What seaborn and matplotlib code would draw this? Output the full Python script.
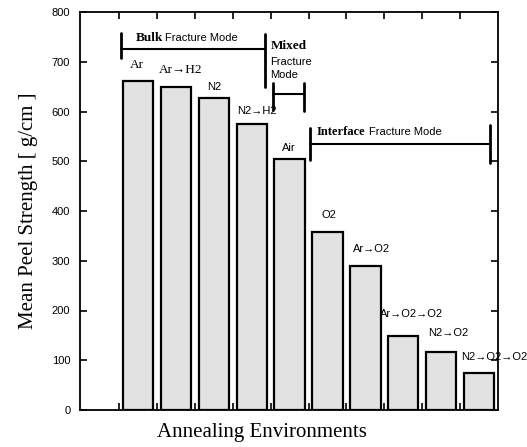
import matplotlib
matplotlib.use("Agg")
import matplotlib.pyplot as plt
import seaborn as sns
import numpy as np
import pandas as pd

categories = ["Ar", "Ar\u2192H2", "N2", "N2\u2192H2", "Air", "O2",
              "Ar\u2192O2", "Ar\u2192O2\u2192O2", "N2\u2192O2", "N2\u2192O2\u2192O2"]
peel_strength = [661, 649, 627, 575, 504, 358, 289, 149, 117, 74]
y_ticks = [0, 100, 200, 300, 400, 500, 600, 700, 800]

sns.set_theme(style="white")
plt.rcParams["font.family"] = ["Liberation Sans", "DejaVu Sans"]
plt.rcParams["text.color"] = "black"
plt.rcParams["axes.labelcolor"] = "black"
plt.rcParams["xtick.color"] = "black"
plt.rcParams["ytick.color"] = "black"

df = pd.DataFrame({"env": categories, "val": peel_strength})

fig = plt.figure(figsize=(5.27, 4.47), dpi=100)
ax = fig.add_axes([80/527, 37/447, 418/527, 398/447])

sns.barplot(data=df, x="env", y="val", color="#e2e2e2", saturation=1,
            edgecolor="black", linewidth=1.6, width=0.8, ax=ax)

ax.set_xlim(-1.53, 9.5)
ax.set_ylim(0, 800)
ax.set_yticks(y_ticks)
ax.set_yticklabels([str(t) for t in y_ticks], fontsize=8)
bounds = np.arange(len(categories)) - 0.5
ax.set_xticks(bounds)
ax.set_xticklabels([])
ax.tick_params(axis="both", direction="in", length=5, width=1.2, color="black",
               labelcolor="black", top=True, right=True, bottom=True, left=True)
ax.tick_params(axis="y", pad=7)
for s in ax.spines.values():
    s.set_color("black")
    s.set_linewidth(1.3)
    s.set_visible(True)

ax.set_xlabel("")
ax.set_ylabel("Mean Peel Strength [ g/cm ]", family="Liberation Serif", fontsize=15,
              labelpad=10, color="black")
fig.text(262/527, 1 - 433/447, "Annealing Environments", family="Liberation Serif",
         fontsize=15, ha="center", va="center", color="black")

# bar labels
label_pos = [(-0.04, 693), (1.12, 683), (2.02, 649), (3.15, 601), (3.97, 527),
             (5.05, 392), (6.16, 324), (7.22, 193), (8.19, 155), (9.41, 107)]
serif_labels = {0, 1}
for i, (lab, (xx, yy)) in enumerate(zip(categories, label_pos)):
    if i in serif_labels:
        fam = ["Liberation Serif", "DejaVu Serif"]
        fs = 9.5
    else:
        fam = ["Liberation Sans", "DejaVu Sans"]
        fs = 8
    ax.text(xx, yy, lab, ha="center", va="center", fontsize=fs, family=fam,
            color="black", clip_on=False)

lw = 1.5
# Bulk bracket
ax.plot([-0.46, 3.36], [726, 726], color="black", lw=lw)
ax.plot([-0.46, -0.46], [708, 758], color="black", lw=2)
ax.plot([3.36, 3.36], [649, 756], color="black", lw=2)
ax.text(-0.07, 748, "Bulk", family="Liberation Serif", fontweight="bold", fontsize=9.5,
        ha="left", va="center", color="black")
ax.text(0.72, 748, "Fracture Mode", fontsize=8, ha="left", va="center", color="black")

# Mixed bracket
ax.plot([3.55, 4.37], [635, 635], color="black", lw=lw)
ax.plot([3.55, 3.55], [603, 657], color="black", lw=2)
ax.plot([4.37, 4.37], [601, 657], color="black", lw=2)
ax.text(3.50, 732, "Mixed", family="Liberation Serif", fontweight="bold", fontsize=9.5,
        ha="left", va="center", color="black")
ax.text(3.50, 700, "Fracture", fontsize=8, ha="left", va="center", color="black")
ax.text(3.50, 673, "Mode", fontsize=8, ha="left", va="center", color="black")

# Interface bracket
ax.plot([4.55, 9.30], [535, 535], color="black", lw=lw)
ax.plot([4.55, 4.55], [503, 567], color="black", lw=2)
ax.plot([9.30, 9.30], [496, 573], color="black", lw=2)
ax.text(4.71, 559, "Interface", family="Liberation Serif", fontweight="bold", fontsize=9,
        ha="left", va="center", color="black")
ax.text(6.10, 559, "Fracture Mode", fontsize=8, ha="left", va="center", color="black")

fig.savefig("out.png", dpi=100)
